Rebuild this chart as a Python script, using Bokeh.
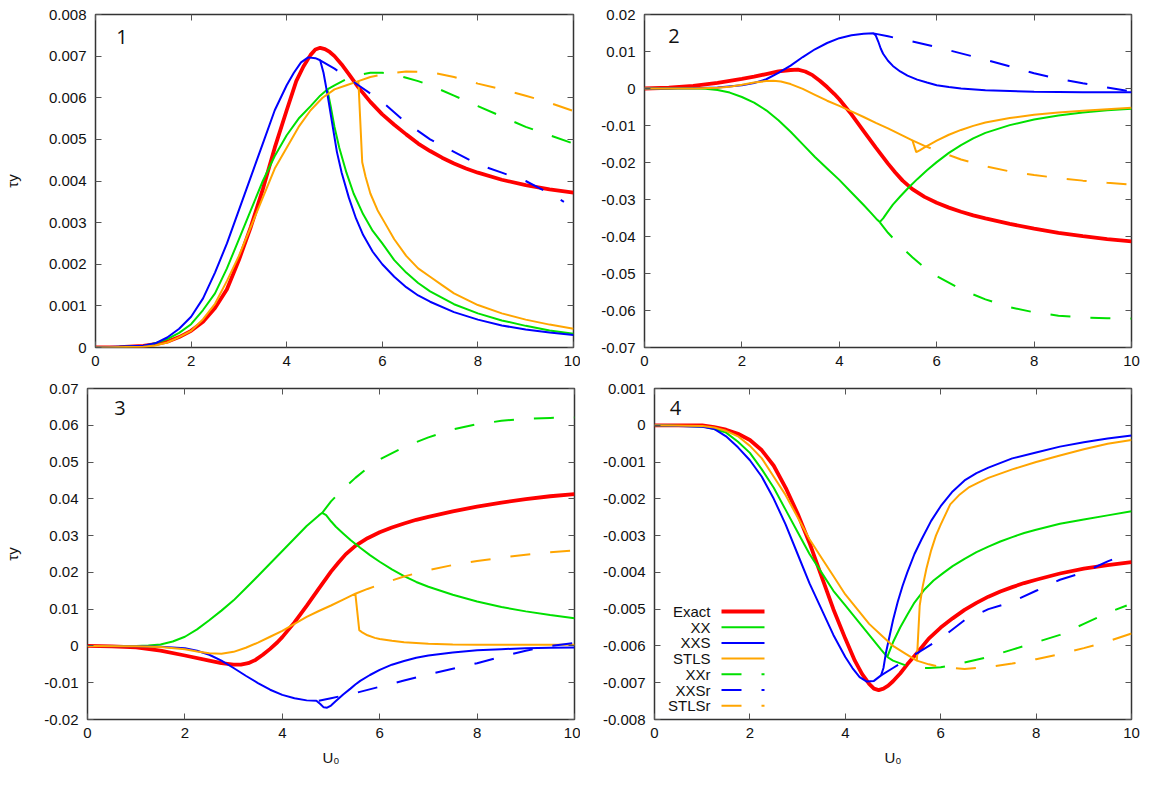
from bokeh.plotting import figure
from bokeh.models import LinearAxis, FixedTicker, Range1d, Label
from bokeh.layouts import row, column
from bokeh.embed import file_html
from bokeh.resources import INLINE

# ---------------- data ----------------
X_RANGE = (0, 10)
X_TICKS = [0, 2, 4, 6, 8, 10]
X_TICK_LABELS = ["0", "2", "4", "6", "8", "10"]

P1_Y_RANGE = (0, 0.008)
P1_Y_TICKS = [0, 0.001, 0.002, 0.003, 0.004, 0.005, 0.006, 0.007, 0.008]
P1_Y_TICK_LABELS = ["0", "0.001", "0.002", "0.003", "0.004", "0.005", "0.006", "0.007", "0.008"]
P2_Y_RANGE = (-0.07, 0.02)
P2_Y_TICKS = [-0.07, -0.06, -0.05, -0.04, -0.03, -0.02, -0.01, 0, 0.01, 0.02]
P2_Y_TICK_LABELS = ["-0.07", "-0.06", "-0.05", "-0.04", "-0.03", "-0.02", "-0.01", "0", "0.01", "0.02"]
P3_Y_RANGE = (-0.02, 0.07)
P3_Y_TICKS = [-0.02, -0.01, 0, 0.01, 0.02, 0.03, 0.04, 0.05, 0.06, 0.07]
P3_Y_TICK_LABELS = ["-0.02", "-0.01", "0", "0.01", "0.02", "0.03", "0.04", "0.05", "0.06", "0.07"]
P4_Y_RANGE = (-0.008, 0.001)
P4_Y_TICKS = [-0.008, -0.007, -0.006, -0.005, -0.004, -0.003, -0.002, -0.001, 0, 0.001]
P4_Y_TICK_LABELS = ["-0.008", "-0.007", "-0.006", "-0.005", "-0.004", "-0.003", "-0.002", "-0.001", "0", "0.001"]

SERIES_NAMES = ["Exact", "XX", "XXS", "STLS", "XXr", "XXSr", "STLSr"]
PANEL_NUMBERS = ["1", "2", "3", "4"]
X_LABEL = "U\u2080"
Y_LABEL = "\u03c4y"

# ---- panel 1 ----
P1_EXACT = [(0, 0), (0.5, 0.00001), (1, 0.00004), (1.25, 0.00008), (1.5, 0.00014), (1.75, 0.00025), (2, 0.0004),
            (2.25, 0.00062), (2.5, 0.00095), (2.75, 0.0014), (3, 0.0021), (3.25, 0.0029), (3.5, 0.0038),
            (3.75, 0.0048), (4, 0.0057), (4.2, 0.0064), (4.35, 0.00675), (4.5, 0.00703), (4.6, 0.00716),
            (4.7, 0.0072), (4.8, 0.00717), (4.9, 0.0071), (5, 0.007), (5.15, 0.0068), (5.3, 0.00657),
            (5.5, 0.00625), (5.75, 0.0059), (6, 0.0056), (6.25, 0.00535), (6.5, 0.00512), (6.75, 0.0049),
            (7, 0.00472), (7.25, 0.00456), (7.5, 0.00442), (7.75, 0.0043), (8, 0.0042), (8.5, 0.00403), (9, 0.0039),
            (9.5, 0.0038), (10, 0.00372)]
P1_XX = [(0, 0), (1, 0.00003), (1.25, 0.0001), (1.5, 0.0002), (1.75, 0.00035), (2, 0.00056), (2.25, 0.0009),
         (2.5, 0.0013), (2.75, 0.0019), (3, 0.0026), (3.25, 0.0033), (3.5, 0.004), (3.75, 0.0046), (4, 0.0051),
         (4.25, 0.0055), (4.5, 0.0058), (4.7, 0.00605), (4.85, 0.0062), (4.92, 0.0058), (5, 0.0053), (5.1, 0.0048),
         (5.25, 0.0042), (5.4, 0.0037), (5.6, 0.0032), (5.8, 0.0028), (6, 0.0025), (6.25, 0.0021), (6.5, 0.0018),
         (6.75, 0.00155), (7, 0.00135), (7.5, 0.00104), (8, 0.00082), (8.5, 0.00065), (9, 0.00052),
         (9.5, 0.00041), (10, 0.00033)]
P1_XXS = [(0, 0), (1, 0.00004), (1.25, 0.0001), (1.5, 0.00024), (1.75, 0.00045), (2, 0.00074), (2.25, 0.00118),
          (2.5, 0.0018), (2.75, 0.0025), (3, 0.0033), (3.25, 0.0041), (3.5, 0.0049), (3.75, 0.0057), (4, 0.0063),
          (4.15, 0.0066), (4.3, 0.00685), (4.45, 0.00697), (4.6, 0.00695), (4.7, 0.0069), (4.77, 0.0066),
          (4.85, 0.0061), (4.95, 0.0054), (5.05, 0.0047), (5.15, 0.0042), (5.3, 0.0036), (5.45, 0.0031),
          (5.6, 0.0027), (5.8, 0.0023), (6, 0.002), (6.25, 0.0017), (6.5, 0.00145), (6.75, 0.00125), (7, 0.0011),
          (7.5, 0.00085), (8, 0.00067), (8.5, 0.00053), (9, 0.00043), (9.5, 0.00036), (10, 0.0003)]
P1_STLS = [(0, 0), (1, 0.00002), (1.25, 0.00005), (1.5, 0.00012), (1.75, 0.00025), (2, 0.0004), (2.25, 0.00068),
           (2.5, 0.00105), (2.75, 0.0016), (3, 0.0022), (3.25, 0.0029), (3.5, 0.0036), (3.75, 0.0043), (4, 0.0048),
           (4.25, 0.0053), (4.5, 0.0057), (4.75, 0.006), (5, 0.0062), (5.25, 0.0063), (5.5, 0.0064),
           (5.58, 0.00445), (5.65, 0.0041), (5.75, 0.0037), (5.9, 0.0033), (6.05, 0.003), (6.25, 0.0026),
           (6.5, 0.0022), (6.75, 0.0019), (7, 0.0017), (7.25, 0.0015), (7.5, 0.0013), (8, 0.00102),
           (8.5, 0.00082), (9, 0.00067), (9.5, 0.00055), (10, 0.00045)]
P1_XXR = [(4.85, 0.0062), (5, 0.0063), (5.25, 0.00645), (5.5, 0.00655), (5.75, 0.0066), (6, 0.0066),
          (6.25, 0.00656), (6.5, 0.00648), (6.75, 0.0064), (7, 0.0063), (7.5, 0.00605), (8, 0.0058),
          (8.5, 0.00555), (9, 0.0053), (9.5, 0.0051), (10, 0.0049)]
P1_XXSR = [(4.7, 0.0069), (5, 0.0067), (5.5, 0.0063), (6, 0.0059), (6.5, 0.0054), (7, 0.005), (7.5, 0.0047),
           (8, 0.0044), (8.5, 0.0042), (9, 0.004), (9.5, 0.0037), (9.8, 0.0035)]
P1_STLSR = [(5.5, 0.0064), (5.75, 0.0065), (6, 0.00656), (6.5, 0.00663), (7, 0.00662), (7.5, 0.0065),
            (8, 0.00634), (8.5, 0.0062), (9, 0.00605), (9.5, 0.00588), (10, 0.00568)]

# ---- panel 2 ----
P2_EXACT = [(0, 0), (0.5, 0.0002), (1, 0.0007), (1.5, 0.0015), (2, 0.0026), (2.25, 0.0032), (2.5, 0.0039),
            (2.75, 0.0046), (3, 0.005), (3.15, 0.0051), (3.3, 0.0046), (3.45, 0.0036), (3.6, 0.0021),
            (3.75, 0.0004), (3.9, -0.0015), (4, -0.0029), (4.25, -0.007), (4.5, -0.0115), (4.75, -0.016),
            (5, -0.0203), (5.15, -0.0227), (5.3, -0.0249), (5.5, -0.0272), (5.75, -0.0293), (6, -0.0309),
            (6.25, -0.0322), (6.5, -0.0333), (6.75, -0.0343), (7, -0.0351), (7.5, -0.0366), (8, -0.0379),
            (8.5, -0.039), (9, -0.0399), (9.5, -0.0407), (10, -0.0413)]
P2_XX = [(0, 0), (1, 0), (1.25, -0.0001), (1.5, -0.0004), (1.75, -0.0011), (2, -0.0023), (2.25, -0.0038),
         (2.5, -0.0059), (2.75, -0.0086), (3, -0.0117), (3.25, -0.0151), (3.5, -0.0185), (3.75, -0.0216),
         (4, -0.0247), (4.25, -0.0281), (4.5, -0.0315), (4.65, -0.0336), (4.78, -0.0355), (4.83, -0.0361),
         (4.9, -0.0351), (5, -0.0332), (5.1, -0.0314), (5.25, -0.0292), (5.4, -0.0271), (5.6, -0.0245),
         (5.8, -0.0221), (6, -0.0199), (6.25, -0.0174), (6.5, -0.0153), (6.75, -0.0135), (7, -0.012),
         (7.5, -0.0099), (8, -0.0084), (8.5, -0.0073), (9, -0.0065), (9.5, -0.0059), (10, -0.0055)]
P2_XXS = [(0, 0), (1, 0.0001), (1.5, 0.0003), (2, 0.0009), (2.25, 0.0015), (2.5, 0.0025), (2.75, 0.0042),
          (3, 0.0062), (3.25, 0.0085), (3.5, 0.0106), (3.75, 0.0123), (4, 0.0136), (4.25, 0.0144), (4.5, 0.0148),
          (4.7, 0.0149), (4.75, 0.0143), (4.8, 0.0127), (4.85, 0.0108), (4.9, 0.0094), (5, 0.0075), (5.1, 0.0061),
          (5.25, 0.0046), (5.4, 0.0035), (5.6, 0.0024), (5.8, 0.0016), (6, 0.0009), (6.25, 0.0004), (6.5, 0),
          (7, -0.0005), (7.5, -0.0007), (8, -0.0009), (9, -0.001), (10, -0.001)]
P2_STLS = [(0, 0), (1, 0), (1.5, 0.0002), (1.75, 0.0005), (2, 0.001), (2.25, 0.0016), (2.5, 0.002), (2.65, 0.0021),
           (2.8, 0.0019), (3, 0.0012), (3.25, -0.0001), (3.5, -0.0017), (3.75, -0.0033), (4, -0.0047),
           (4.25, -0.0062), (4.5, -0.0077), (4.75, -0.0093), (5, -0.0108), (5.25, -0.0124), (5.5, -0.014),
           (5.58, -0.0172), (5.65, -0.0167), (5.75, -0.0159), (5.9, -0.0148), (6, -0.0141), (6.25, -0.0125),
           (6.5, -0.0112), (6.75, -0.0101), (7, -0.0092), (7.5, -0.008), (8, -0.0071), (8.5, -0.0065),
           (9, -0.006), (9.5, -0.0056), (10, -0.0052)]
P2_XXR = [(4.83, -0.0361), (5, -0.039), (5.25, -0.0425), (5.5, -0.0456), (5.75, -0.0484), (6, -0.0507),
          (6.5, -0.0543), (7, -0.057), (7.5, -0.0591), (8, -0.0605), (8.5, -0.0614), (9, -0.0619), (9.5, -0.0621),
          (10, -0.0622)]
P2_XXSR = [(4.7, 0.0149), (5, 0.0141), (5.5, 0.0127), (6, 0.0112), (6.5, 0.0095), (7, 0.0078), (7.5, 0.006),
           (8, 0.0041), (8.5, 0.0026), (9, 0.0014), (9.5, 0.0003), (10, -0.0008)]
P2_STLSR = [(5.5, -0.014), (5.75, -0.0155), (6, -0.0168), (6.5, -0.0192), (7, -0.021), (7.5, -0.0224),
            (8, -0.0234), (8.5, -0.0242), (9, -0.0249), (9.5, -0.0255), (10, -0.026)]

# ---- panel 3 ----
P3_EXACT = [(0, 0), (0.5, -0.0001), (1, -0.0004), (1.5, -0.0013), (2, -0.0026), (2.5, -0.004), (2.75, -0.0047),
            (3, -0.0051), (3.15, -0.0051), (3.3, -0.0047), (3.45, -0.0038), (3.6, -0.0024), (3.75, -0.0008),
            (3.9, 0.001), (4, 0.0024), (4.25, 0.0064), (4.5, 0.0109), (4.75, 0.0156), (5, 0.0202), (5.15, 0.0226),
            (5.3, 0.0249), (5.5, 0.0272), (5.75, 0.0293), (6, 0.0309), (6.25, 0.0322), (6.5, 0.0333),
            (6.75, 0.0343), (7, 0.0351), (7.5, 0.0366), (8, 0.0379), (8.5, 0.039), (9, 0.0399), (9.5, 0.0407),
            (10, 0.0413)]
P3_XX = [(0, 0), (1, 0), (1.25, 0.0001), (1.5, 0.0004), (1.75, 0.0012), (2, 0.0025), (2.25, 0.0045), (2.5, 0.007),
         (2.75, 0.0096), (3, 0.0124), (3.25, 0.0157), (3.5, 0.019), (3.75, 0.0224), (4, 0.0258), (4.25, 0.0292),
         (4.5, 0.0326), (4.75, 0.0355), (4.82, 0.0362), (4.9, 0.0356), (5, 0.0339), (5.1, 0.0324), (5.25, 0.0306),
         (5.4, 0.0288), (5.6, 0.0267), (5.8, 0.0247), (6, 0.0229), (6.25, 0.0208), (6.5, 0.019), (6.75, 0.0174),
         (7, 0.0161), (7.5, 0.0139), (8, 0.0121), (8.5, 0.0106), (9, 0.0094), (9.5, 0.0084), (10, 0.0075)]
P3_XXS = [(0, 0), (1, -0.0001), (1.5, -0.0002), (2, -0.0006), (2.25, -0.0013), (2.5, -0.0024), (2.75, -0.004),
          (3, -0.006), (3.25, -0.0081), (3.5, -0.0101), (3.75, -0.0119), (4, -0.0133), (4.25, -0.0142),
          (4.5, -0.0148), (4.7, -0.0149), (4.78, -0.0158), (4.85, -0.0167), (4.92, -0.0168), (5, -0.0162),
          (5.1, -0.015), (5.25, -0.0132), (5.4, -0.0116), (5.5, -0.0105), (5.6, -0.0095), (5.8, -0.0079),
          (6, -0.0065), (6.25, -0.0051), (6.5, -0.0041), (6.75, -0.0032), (7, -0.0026), (7.5, -0.0018),
          (8, -0.0012), (8.5, -0.0009), (9, -0.0006), (9.5, -0.0005), (10, -0.0004)]
P3_STLS = [(0, 0), (1, -0.0001), (1.5, -0.0003), (2, -0.0009), (2.25, -0.0015), (2.5, -0.002), (2.75, -0.0021),
           (3, -0.0016), (3.25, -0.0005), (3.5, 0.0009), (3.75, 0.0025), (4, 0.0041), (4.25, 0.006), (4.5, 0.0079),
           (4.75, 0.0095), (5, 0.011), (5.25, 0.0126), (5.5, 0.0142), (5.58, 0.0043), (5.65, 0.0036),
           (5.75, 0.0029), (5.9, 0.0022), (6, 0.0019), (6.25, 0.0014), (6.5, 0.001), (7, 0.0006), (7.5, 0.0004),
           (8, 0.00035), (9, 0.0003), (10, 0.0003)]
P3_XXR = [(4.82, 0.0362), (5, 0.0393), (5.25, 0.0427), (5.5, 0.0457), (5.75, 0.0484), (6, 0.0507), (6.5, 0.0541),
          (7, 0.0567), (7.5, 0.0589), (8, 0.0603), (8.5, 0.0612), (9, 0.0618), (9.5, 0.062), (10, 0.0621)]
P3_XXSR = [(4.75, -0.0149), (5, -0.0142), (5.5, -0.0128), (6, -0.0111), (6.5, -0.0094), (7, -0.0077),
           (7.5, -0.0062), (8, -0.0047), (8.5, -0.0029), (9, -0.0013), (9.5, 0), (10, 0.0008)]
P3_STLSR = [(5.5, 0.0142), (5.75, 0.0155), (6, 0.0167), (6.5, 0.0189), (7, 0.0206), (7.5, 0.022), (8, 0.0231),
            (8.5, 0.024), (9, 0.0248), (9.5, 0.0255), (10, 0.026)]

# ---- panel 4 ----
P4_EXACT = [(0, 0), (1, 0), (1.25, -0.00005), (1.5, -0.00012), (1.75, -0.00023), (2, -0.0004), (2.25, -0.00068),
            (2.5, -0.0011), (2.75, -0.0017), (3, -0.0024), (3.25, -0.0032), (3.5, -0.0041), (3.75, -0.005),
            (4, -0.0058), (4.2, -0.0064), (4.35, -0.00676), (4.5, -0.00703), (4.6, -0.00716), (4.7, -0.0072),
            (4.8, -0.00716), (4.9, -0.00708), (5, -0.00696), (5.15, -0.00675), (5.3, -0.0065), (5.5, -0.0062),
            (5.75, -0.0058), (6, -0.0055), (6.25, -0.00525), (6.5, -0.00502), (6.75, -0.00483), (7, -0.00466),
            (7.25, -0.00452), (7.5, -0.0044), (7.75, -0.00429), (8, -0.0042), (8.5, -0.00403), (9, -0.0039),
            (9.5, -0.0038), (10, -0.00372)]
P4_XX = [(0, 0), (1, -0.00003), (1.25, -0.0001), (1.5, -0.0002), (1.75, -0.00045), (2, -0.00075), (2.25, -0.0012),
         (2.5, -0.0017), (2.75, -0.0023), (3, -0.0029), (3.25, -0.0035), (3.5, -0.004), (3.75, -0.0045),
         (4, -0.0049), (4.25, -0.0053), (4.5, -0.0057), (4.75, -0.0061), (4.88, -0.0063), (5, -0.0059),
         (5.15, -0.0055), (5.3, -0.00515), (5.45, -0.00482), (5.65, -0.00448), (5.85, -0.00422), (6.05, -0.00402),
         (6.25, -0.00383), (6.5, -0.00363), (6.75, -0.00345), (7, -0.0033), (7.25, -0.00316), (7.5, -0.00304),
         (7.75, -0.00293), (8, -0.00284), (8.5, -0.00268), (9, -0.00256), (9.5, -0.00245), (10, -0.00234)]
P4_XXS = [(0, 0), (1, -0.00004), (1.25, -0.0001), (1.5, -0.0003), (1.75, -0.0006), (2, -0.00095), (2.25, -0.0014),
          (2.5, -0.002), (2.75, -0.0027), (3, -0.0035), (3.25, -0.0043), (3.5, -0.005), (3.75, -0.0057),
          (4, -0.0063), (4.15, -0.0066), (4.3, -0.00685), (4.45, -0.00697), (4.6, -0.00695), (4.75, -0.0068),
          (4.8, -0.0066), (4.85, -0.0062), (4.9, -0.0059), (5, -0.0053), (5.1, -0.0048), (5.2, -0.00437),
          (5.3, -0.004), (5.45, -0.0035), (5.6, -0.0031), (5.8, -0.0026), (6, -0.0022), (6.25, -0.0018),
          (6.5, -0.0015), (6.75, -0.0013), (7, -0.00115), (7.5, -0.0009), (8, -0.00074), (8.5, -0.00058),
          (9, -0.00046), (9.5, -0.00036), (10, -0.00028)]
P4_STLS = [(0, 0), (1, -0.00002), (1.25, -0.00006), (1.5, -0.00015), (1.75, -0.0003), (2, -0.00056), (2.25, -0.0009),
           (2.5, -0.0014), (2.75, -0.0019), (3, -0.0025), (3.25, -0.0031), (3.5, -0.0036), (3.75, -0.0041),
           (4, -0.0046), (4.25, -0.005), (4.5, -0.0054), (4.75, -0.0057), (5, -0.006), (5.25, -0.0062),
           (5.5, -0.0064), (5.56, -0.0049), (5.62, -0.0044), (5.7, -0.0039), (5.8, -0.0034), (5.9, -0.003),
           (6, -0.0027), (6.2, -0.00215), (6.4, -0.00188), (6.6, -0.00168), (6.8, -0.00155), (7, -0.00143),
           (7.5, -0.0012), (8, -0.001), (8.5, -0.00082), (9, -0.00065), (9.5, -0.0005), (10, -0.0004)]
P4_XXR = [(4.88, -0.0063), (5, -0.0064), (5.25, -0.00652), (5.5, -0.0066), (5.75, -0.0066), (6, -0.00658),
          (6.5, -0.00645), (7, -0.0063), (7.5, -0.0061), (8, -0.0059), (8.5, -0.0057), (9, -0.0054), (9.5, -0.0051),
          (9.9, -0.0049)]
P4_XXSR = [(4.75, -0.0068), (5, -0.0066), (5.5, -0.0062), (6, -0.0058), (6.5, -0.0053), (7, -0.005), (7.5, -0.0048),
           (8, -0.0045), (8.5, -0.0042), (9, -0.004), (9.5, -0.0037), (9.7, -0.0036)]
P4_STLSR = [(5.5, -0.0064), (5.75, -0.0065), (6, -0.00657), (6.5, -0.00663), (7, -0.00657), (7.5, -0.00648),
            (8, -0.00636), (8.5, -0.00622), (9, -0.00606), (9.5, -0.00588), (10, -0.00566)]

# ---------------- styles ----------------
RED, GREEN, BLUE, ORANGE = "#ff0000", "#00e000", "#0000ff", "#ffa500"
DASH = "20 20"
STYLES = {
    "Exact": (RED, 3.8, "solid"),
    "XX": (GREEN, 2, "solid"),
    "XXS": (BLUE, 2, "solid"),
    "STLS": (ORANGE, 2, "solid"),
    "XXr": (GREEN, 2, DASH),
    "XXSr": (BLUE, 2, DASH),
    "STLSr": (ORANGE, 2, DASH),
}
FONT = "Liberation Sans"
NUM_FONT = "Open Sans"
TEXT_COLOR = "#111111"
FRAME_COLOR = "#333333"
TICK_COLOR = "#555555"
TICK_LEN = 6

# frame geometry in pixels: border sizes (l, r, t, b), frame size (fw, fh), y-title standoff
G1 = dict(l=95, r=7, t=14, b=28, fw=478, fh=333, ys=25)
G2 = dict(l=64, r=30, t=14, b=28, fw=487, fh=333, ys=0)
G3 = dict(l=87, r=6, t=13, b=41, fw=487, fh=331, ys=20)
G4 = dict(l=74, r=30, t=13, b=41, fw=477, fh=331, ys=0)


def fdata(g, yr, fx, fy):
    """frame-relative pixel position -> data coordinates"""
    x = X_RANGE[0] + fx / g["fw"] * (X_RANGE[1] - X_RANGE[0])
    y = yr[1] - fy / g["fh"] * (yr[1] - yr[0])
    return x, y


def label(x, y, text, size, font=FONT, align="center"):
    return Label(x=x, y=y, text=text, text_font=font, text_font_size=size, text_align=align,
                 text_baseline="middle", text_color=TEXT_COLOR)


def make_axis(ticks, labels, show, standoff, title=None, title_standoff=0):
    ax = LinearAxis(ticker=FixedTicker(ticks=ticks))
    if show:
        ax.major_label_overrides = {t: s for t, s in zip(ticks, labels)}
        ax.major_label_text_font_size = "15px"
        ax.major_label_standoff = standoff
    else:
        ax.major_label_text_font_size = "0px"
        ax.major_label_standoff = 0
    ax.major_label_text_font = FONT
    ax.major_label_text_color = TEXT_COLOR
    ax.axis_line_color = None
    ax.major_tick_in = TICK_LEN
    ax.major_tick_out = 0
    ax.major_tick_line_color = TICK_COLOR
    ax.major_tick_line_width = 1
    ax.minor_tick_line_color = None
    if title:
        ax.axis_label = title
        ax.axis_label_text_font = FONT
        ax.axis_label_text_font_size = "15px"
        ax.axis_label_text_font_style = "normal"
        ax.axis_label_text_color = TEXT_COLOR
        ax.axis_label_standoff = title_standoff
    return ax


def make_panel(g, yr, yticks, ylabels, series, number, num_pos, xlabel=False, ylabel=False, legend=False):
    p = figure(frame_width=g["fw"], frame_height=g["fh"], x_range=Range1d(*X_RANGE), y_range=Range1d(*yr),
               output_backend="svg", toolbar_location=None, x_axis_type=None, y_axis_type=None,
               min_border_left=g["l"], min_border_right=g["r"], min_border_top=g["t"], min_border_bottom=g["b"])
    p.outline_line_color = FRAME_COLOR
    p.outline_line_width = 1.5
    p.background_fill_color = "white"
    p.border_fill_color = "white"
    p.add_layout(make_axis(X_TICKS, X_TICK_LABELS, True, 8, X_LABEL if xlabel else None, 8), "below")
    p.add_layout(make_axis(yticks, ylabels, True, 9, Y_LABEL if ylabel else None, g["ys"]), "left")
    # mirrored inward ticks on the top and right edges
    p.add_layout(make_axis(X_TICKS, X_TICK_LABELS, False, 0), "above")
    p.add_layout(make_axis(yticks, ylabels, False, 0), "right")

    for name, pts in zip(SERIES_NAMES, series):
        xs = [a for a, _ in pts]
        ys = [b for _, b in pts]
        color, width, dash = STYLES[name]
        p.line(xs, ys, line_color=color, line_width=width, line_dash=dash)

    x, y = fdata(g, yr, *num_pos)
    p.add_layout(label(x, y, number, "20px", font=NUM_FONT))

    if legend:
        for i, name in enumerate(SERIES_NAMES):
            fy = 223 + i * 15.7
            x, y = fdata(g, yr, 56, fy)
            p.add_layout(label(x, y, name, "15px", align="right"))
            x0, y0 = fdata(g, yr, 67, fy)
            x1, _ = fdata(g, yr, 110, fy)
            color, width, dash = STYLES[name]
            p.line([x0, x1], [y0, y0], line_color=color, line_width=width, line_dash=dash)
    return p


p1 = make_panel(G1, P1_Y_RANGE, P1_Y_TICKS, P1_Y_TICK_LABELS,
                [P1_EXACT, P1_XX, P1_XXS, P1_STLS, P1_XXR, P1_XXSR, P1_STLSR], PANEL_NUMBERS[0], (26.5, 22.5),
                ylabel=True)
p2 = make_panel(G2, P2_Y_RANGE, P2_Y_TICKS, P2_Y_TICK_LABELS,
                [P2_EXACT, P2_XX, P2_XXS, P2_STLS, P2_XXR, P2_XXSR, P2_STLSR], PANEL_NUMBERS[1], (29.5, 21.5))
p3 = make_panel(G3, P3_Y_RANGE, P3_Y_TICKS, P3_Y_TICK_LABELS,
                [P3_EXACT, P3_XX, P3_XXS, P3_STLS, P3_XXR, P3_XXSR, P3_STLSR], PANEL_NUMBERS[2], (32.5, 19.5),
                xlabel=True, ylabel=True)
p4 = make_panel(G4, P4_Y_RANGE, P4_Y_TICKS, P4_Y_TICK_LABELS,
                [P4_EXACT, P4_XX, P4_XXS, P4_STLS, P4_XXR, P4_XXSR, P4_STLSR], PANEL_NUMBERS[3], (21, 19.5),
                xlabel=True, legend=True)

layout = column(row(p1, p2), row(p3, p4))
open("out.html", "w").write(file_html(layout, INLINE))
